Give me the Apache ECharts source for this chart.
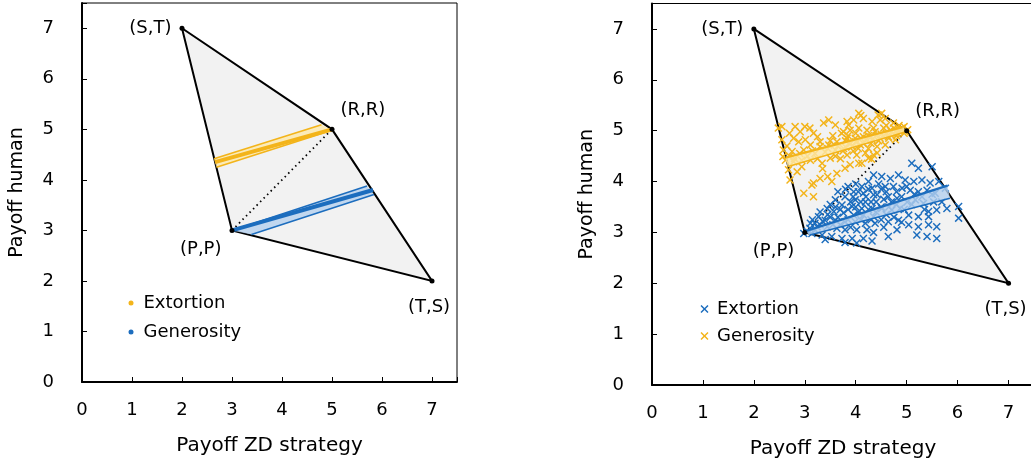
<!DOCTYPE html>
<html>
<head>
<meta charset="utf-8">
<script src="https://cdn.jsdelivr.net/npm/echarts@6/dist/echarts.min.js"></script>
<style>
html, body { margin: 0; padding: 0; background: #fff; }
#myChart { width: 1031px; height: 465px; }
</style>
</head>
<body>
<div id="myChart"></div>
<script>
// payoff region corners (S,T) (R,R) (T,S) (P,P)
var cornerX = [2, 5, 7, 3]
var cornerY = [7, 5, 2, 3]
var cornerNames = ['(S,T)', '(R,R)', '(T,S)', '(P,P)']
var axisMax = 7.5

// left panel: fitted lines
var extLeftMean = [[2.66, 4.35], [5.0, 5.0]]
var extLeftUpper = [[2.64, 4.42], [4.79, 5.09]]
var extLeftLower = [[2.69, 4.25], [5.0, 4.98]]
var genLeftMean = [[3.0, 3.0], [5.82, 3.80]]
var genLeftUpper = [[3.0, 3.0], [5.70, 3.88]]
var genLeftLower = [[3.39, 2.92], [5.84, 3.71]]

// right panel: fitted bands
var genRightUpper = [[2.62, 4.47], [4.92, 5.07]]
var genRightLower = [[2.66, 4.29], [5.02, 4.99]]
var extRightUpper = [[3.0, 3.02], [5.80, 3.92]]
var extRightLower = [[3.1, 2.95], [5.85, 3.67]]

// right panel: single games
var genPoints = [
	[2.55, 5.08], [2.81, 5.08], [2.91, 4.98], [3.37, 5.15], [3.47, 5.21], [3.60, 5.11], [3.17, 4.95],
	[2.78, 4.85], [2.88, 4.78], [3.01, 4.82], [2.55, 4.82], [2.58, 4.62], [2.75, 4.59], [2.98, 4.62],
	[3.11, 4.72], [3.30, 4.69], [3.47, 4.72], [3.63, 4.78], [2.62, 4.42], [2.78, 4.39], [2.94, 4.42],
	[3.11, 4.42], [3.34, 4.36], [3.50, 4.46], [2.68, 4.23], [2.85, 4.19], [2.94, 4.29], [3.63, 4.16],
	[2.71, 4.03], [3.17, 3.97], [3.30, 4.06], [2.98, 3.77], [3.17, 3.70], [2.48, 5.05], [2.57, 4.49],
	[3.00, 5.08], [3.14, 3.93], [3.53, 4.00], [3.86, 5.11],
	[4.06, 5.34], [3.83, 5.18], [3.96, 5.21], [4.15, 5.24], [4.32, 5.18], [4.48, 5.21], [4.58, 5.24],
	[4.74, 5.15], [4.91, 5.05], [4.97, 4.98], [3.76, 4.98], [3.89, 5.01], [4.06, 5.05], [4.22, 5.01],
	[4.38, 4.98], [4.55, 5.05], [4.68, 5.01], [4.81, 4.95], [3.83, 4.85], [3.99, 4.85], [4.15, 4.88],
	[4.32, 4.82], [4.48, 4.85], [4.64, 4.88], [4.78, 4.82], [3.76, 4.65], [3.93, 4.69], [4.09, 4.72],
	[4.25, 4.65], [4.42, 4.69], [4.58, 4.72], [3.83, 4.52], [4.02, 4.52], [4.19, 4.56], [4.35, 4.52],
	[3.89, 4.33], [4.06, 4.36], [3.79, 4.26], [4.25, 4.46], [4.42, 4.56], [4.12, 4.36], [4.31, 4.44],
	[3.20, 4.55], [3.40, 4.58], [3.60, 4.62], [3.80, 4.68], [3.90, 4.75], [4.00, 4.78], [4.20, 4.82],
	[4.30, 4.88], [4.40, 4.90], [4.50, 4.93], [4.60, 4.95], [4.70, 4.98], [4.80, 5.00], [4.90, 5.02],
	[5.02, 5.02], [4.95, 5.08], [4.85, 5.10], [3.70, 4.45], [3.55, 4.90], [3.72, 4.95], [4.44, 5.31],
	[4.51, 5.34], [4.10, 5.30],
	[2.70, 4.50], [2.80, 4.45], [2.90, 4.55], [3.05, 4.50], [3.15, 4.60], [3.25, 4.45], [3.30, 4.78],
	[3.45, 4.65], [3.50, 4.80], [3.60, 4.50], [3.65, 4.70], [3.75, 4.60], [3.80, 4.80], [3.85, 4.90],
	[3.95, 4.60], [4.00, 4.95], [4.05, 4.65], [4.10, 4.85], [4.15, 4.75], [4.25, 4.90], [4.30, 4.75],
	[4.35, 5.05], [4.45, 4.80], [4.55, 4.90], [4.60, 5.10], [4.65, 4.85], [4.75, 5.05], [4.80, 4.90],
	[4.85, 5.00], [4.95, 4.95], [3.10, 5.05], [3.25, 4.88], [2.65, 4.70], [2.70, 4.95], [3.35, 4.25],
	[3.45, 4.10]
]
var extPoints = [
	[4.35, 4.13], [4.25, 4.00], [4.12, 3.90], [4.32, 3.87], [3.96, 3.80], [4.15, 3.77], [4.35, 3.74],
	[3.79, 3.70], [3.99, 3.64], [4.19, 3.60], [3.60, 3.64], [3.73, 3.54], [3.93, 3.51], [4.12, 3.47],
	[4.32, 3.47], [3.44, 3.47], [3.57, 3.41], [3.76, 3.38], [3.96, 3.34], [4.15, 3.34], [4.35, 3.31],
	[3.27, 3.31], [3.40, 3.24], [3.60, 3.24], [3.79, 3.21], [3.99, 3.21], [4.19, 3.18], [4.38, 3.18],
	[3.11, 3.18], [3.24, 3.11], [3.44, 3.11], [3.63, 3.08], [3.79, 3.05], [4.02, 3.05], [4.22, 3.05],
	[2.98, 2.98], [3.14, 2.98], [3.34, 2.95], [3.53, 2.92], [3.73, 2.88], [3.93, 2.88], [4.15, 2.88],
	[3.40, 2.86], [3.79, 2.80], [4.02, 2.79], [4.32, 2.83],
	[5.10, 4.36], [5.23, 4.26], [5.50, 4.29], [4.51, 4.10], [4.68, 4.06], [4.84, 4.13], [4.97, 4.03],
	[5.14, 4.00], [5.30, 4.03], [5.46, 3.97], [5.63, 4.00], [5.76, 3.87], [4.58, 3.90], [4.74, 3.90],
	[4.91, 3.87], [5.07, 3.83], [5.23, 3.80], [5.40, 3.83], [5.56, 3.77], [4.42, 3.74], [4.64, 3.70],
	[4.81, 3.67], [5.01, 3.60], [5.17, 3.64], [5.33, 3.57], [5.53, 3.60], [5.69, 3.60], [4.51, 3.47],
	[4.71, 3.44], [4.87, 3.47], [5.04, 3.34], [5.23, 3.31], [5.43, 3.41], [5.59, 3.44], [5.79, 3.47],
	[6.02, 3.51], [6.02, 3.28], [4.64, 3.21], [4.84, 3.24], [5.04, 3.15], [5.23, 3.11], [5.43, 3.15],
	[5.59, 3.11], [4.81, 3.05], [5.20, 2.95], [5.40, 2.92], [5.59, 2.88], [4.64, 2.92], [5.43, 3.31],
	[3.05, 3.02], [3.10, 3.08], [3.20, 3.05], [3.20, 3.18], [3.50, 3.30], [3.70, 3.45], [3.90, 3.60],
	[4.00, 3.50], [4.20, 3.70], [4.40, 3.60], [4.50, 3.50], [4.60, 3.35], [4.40, 3.40], [4.30, 3.25],
	[4.70, 3.60], [4.80, 3.80], [4.50, 3.85], [4.00, 3.95], [3.85, 3.90], [3.65, 3.80],
	[3.30, 3.15], [3.35, 3.22], [3.45, 3.35], [3.55, 3.15], [3.65, 3.30], [3.70, 3.15], [3.85, 3.25],
	[3.85, 3.45], [3.95, 3.70], [4.05, 3.40], [4.10, 3.25], [4.10, 3.60], [4.25, 3.45], [4.25, 3.85],
	[4.30, 3.60], [4.45, 3.95], [4.50, 3.25], [4.55, 3.65], [4.60, 3.80], [4.65, 3.50], [4.75, 3.30],
	[4.80, 3.55], [4.90, 3.70], [4.95, 3.45], [5.00, 3.90], [5.10, 3.55], [5.15, 3.75], [5.30, 3.70],
	[5.35, 3.45], [5.50, 3.75], [3.50, 3.55], [3.60, 3.50], [3.80, 3.85], [4.05, 3.80], [3.30, 3.40],
	[3.15, 3.25], [3.90, 3.10], [4.35, 3.00], [4.55, 3.10], [4.90, 3.20]
]

var orange = '#f3b41a'
var blue = '#1c6dbe'
var paleOrange = 'rgba(253, 233, 170, 0.8)'
var paleBlue = 'rgba(180, 208, 238, 0.8)'
var font = 'DejaVu Sans'
var xShape = 'path://M0,1.3L1.3,0L5,3.7L8.7,0L10,1.3L6.3,5L10,8.7L8.7,10L5,6.3L1.3,10L0,8.7L3.7,5Z'

function polygon (pts, gi, fill, stroke, lw, z) {
	return {
		type: 'custom',
		xAxisIndex: gi,
		yAxisIndex: gi,
		z: z,
		silent: true,
		data: pts,
		renderItem: function (params, api) {
			if (params.dataIndex !== 0) return
			var points = pts.map(function (p) { return api.coord(p) })
			return {
				type: 'polygon',
				shape: { points: points },
				style: { fill: fill, stroke: stroke, lineWidth: lw }
			}
		}
	}
}

function line (name, pts, gi, color, width, z, dash) {
	return {
		name: name,
		type: 'line',
		xAxisIndex: gi,
		yAxisIndex: gi,
		data: pts,
		z: z,
		symbol: 'none',
		silent: true,
		itemStyle: { color: color },
		lineStyle: { color: color, width: width, type: dash || 'solid' }
	}
}

function band (upper, lower) {
	return upper.concat(lower.slice().reverse())
}

var labelPos = [
	{ position: 'left', distance: 8, offset: [0, 0] },
	{ position: 'right', distance: 6, offset: [0, -19] },
	{ position: 'bottom', distance: 15, offset: [-3, 0] },
	{ position: 'left', distance: 8, offset: [0, 19] }
]

function corners (gi) {
	return {
		type: 'scatter',
		xAxisIndex: gi,
		yAxisIndex: gi,
		z: 10,
		symbolSize: 5,
		silent: true,
		itemStyle: { color: '#000', opacity: 1 },
		data: cornerX.map(function (x, i) {
			return {
				value: [x, cornerY[i]],
				label: {
					show: true,
					formatter: cornerNames[i],
					position: labelPos[i].position,
					distance: labelPos[i].distance,
					offset: labelPos[i].offset,
					fontSize: 18,
					fontFamily: font,
					color: '#000',
					opacity: 1
				}
			}
		})
	}
}

function xAxis (gi) {
	return {
		type: 'value', gridIndex: gi, min: 0, max: axisMax, interval: 1,
		name: 'Payoff ZD strategy', nameLocation: 'middle', nameGap: 54,
		nameTextStyle: { fontSize: 20, fontFamily: font, color: '#000' },
		axisLine: { onZero: false, lineStyle: { color: '#000', width: 2 } },
		axisTick: { inside: true, length: 5, lineStyle: { color: '#000', width: 1 } },
		axisLabel: { margin: 19, fontSize: 18, fontFamily: font, color: '#000',
			formatter: function (v) { return v % 1 === 0 ? v : '' } },
		splitLine: { show: false }
	}
}

function yAxis (gi) {
	return {
		type: 'value', gridIndex: gi, min: 0, max: axisMax, interval: 1,
		name: 'Payoff human', nameLocation: 'middle', nameGap: 55,
		nameTextStyle: { fontSize: 19, fontFamily: font, color: '#000' },
		axisLine: { onZero: false, lineStyle: { color: '#000', width: 2 } },
		axisTick: { inside: true, length: 5, lineStyle: { color: '#000', width: 1 } },
		axisLabel: { margin: 28, fontSize: 18, fontFamily: font, color: '#000',
			formatter: function (v) { return v % 1 === 0 ? v : '' } },
		splitLine: { show: false }
	}
}

var region = cornerX.map(function (x, i) { return [x, cornerY[i]] })
var diagonal = [[3, 3], [5, 5]]

var myChart = echarts.init(document.getElementById('myChart'), null, { renderer: 'canvas' })
myChart.setOption({
	animation: false,
	backgroundColor: '#fff',
	grid: [
		{ left: 82, top: 3, width: 375, height: 379, show: true, borderColor: '#000', borderWidth: 1, outerBoundsMode: 'none' },
		{ left: 652, top: 3.5, width: 382, height: 381.5, show: true, borderColor: '#000', borderWidth: 1, outerBoundsMode: 'none' }
	],
	xAxis: [xAxis(0), xAxis(1)],
	yAxis: [yAxis(0), yAxis(1)],
	legend: [
		{
			orient: 'vertical', left: 123.5, top: 289, itemWidth: 15, itemHeight: 5, itemGap: 11,
			selectedMode: false,
			textStyle: { fontSize: 18, fontFamily: font, color: '#000' },
			data: [{ name: 'Extortion', icon: 'circle' }, { name: 'Generosity', icon: 'circle' }]
		},
		{
			orient: 'vertical', left: 695.5, top: 295, itemWidth: 15, itemHeight: 8, itemGap: 9,
			selectedMode: false,
			textStyle: { fontSize: 18, fontFamily: font, color: '#000' },
			formatter: function (name) { return name.trim() },
			data: [{ name: 'Extortion ', icon: xShape }, { name: 'Generosity ', icon: xShape }]
		}
	],
	series: [
		// left panel
		polygon(region, 0, '#f2f2f2', '#000', 2, 1),
		line('', diagonal, 0, '#000', 1.8, 2, [1.5, 3.5]),
		polygon(band(extLeftUpper, extLeftLower), 0, paleOrange, null, 0, 3),
		line('', extLeftUpper, 0, orange, 1.6, 4),
		line('', extLeftLower, 0, orange, 1.6, 4),
		line('Extortion', extLeftMean, 0, orange, 4, 5),
		polygon(band(genLeftUpper, genLeftLower), 0, paleBlue, null, 0, 3),
		line('', genLeftUpper, 0, blue, 1.6, 4),
		line('', genLeftLower, 0, blue, 1.6, 4),
		line('Generosity', genLeftMean, 0, blue, 4, 5),
		corners(0),
		// right panel
		polygon(region, 1, '#f2f2f2', '#000', 2, 1),
		line('', diagonal, 1, '#000', 1.8, 2, [1.5, 3.5]),
		{
			name: 'Generosity ', type: 'scatter', xAxisIndex: 1, yAxisIndex: 1, z: 3,
			symbol: xShape, symbolSize: 8, silent: true,
			itemStyle: { color: orange, opacity: 1 }, data: genPoints
		},
		{
			name: 'Extortion ', type: 'scatter', xAxisIndex: 1, yAxisIndex: 1, z: 3,
			symbol: xShape, symbolSize: 8, silent: true,
			itemStyle: { color: blue, opacity: 1 }, data: extPoints
		},
		polygon(band(genRightUpper, genRightLower), 1, paleOrange, null, 0, 4),
		line('', genRightUpper, 1, orange, 2.2, 5),
		line('', genRightLower, 1, orange, 1.6, 5),
		polygon(band(extRightUpper, extRightLower), 1, paleBlue, null, 0, 4),
		line('', extRightUpper, 1, blue, 2.2, 5),
		line('', extRightLower, 1, blue, 1.6, 5),
		corners(1)
	]
})
</script>
</body>
</html>
